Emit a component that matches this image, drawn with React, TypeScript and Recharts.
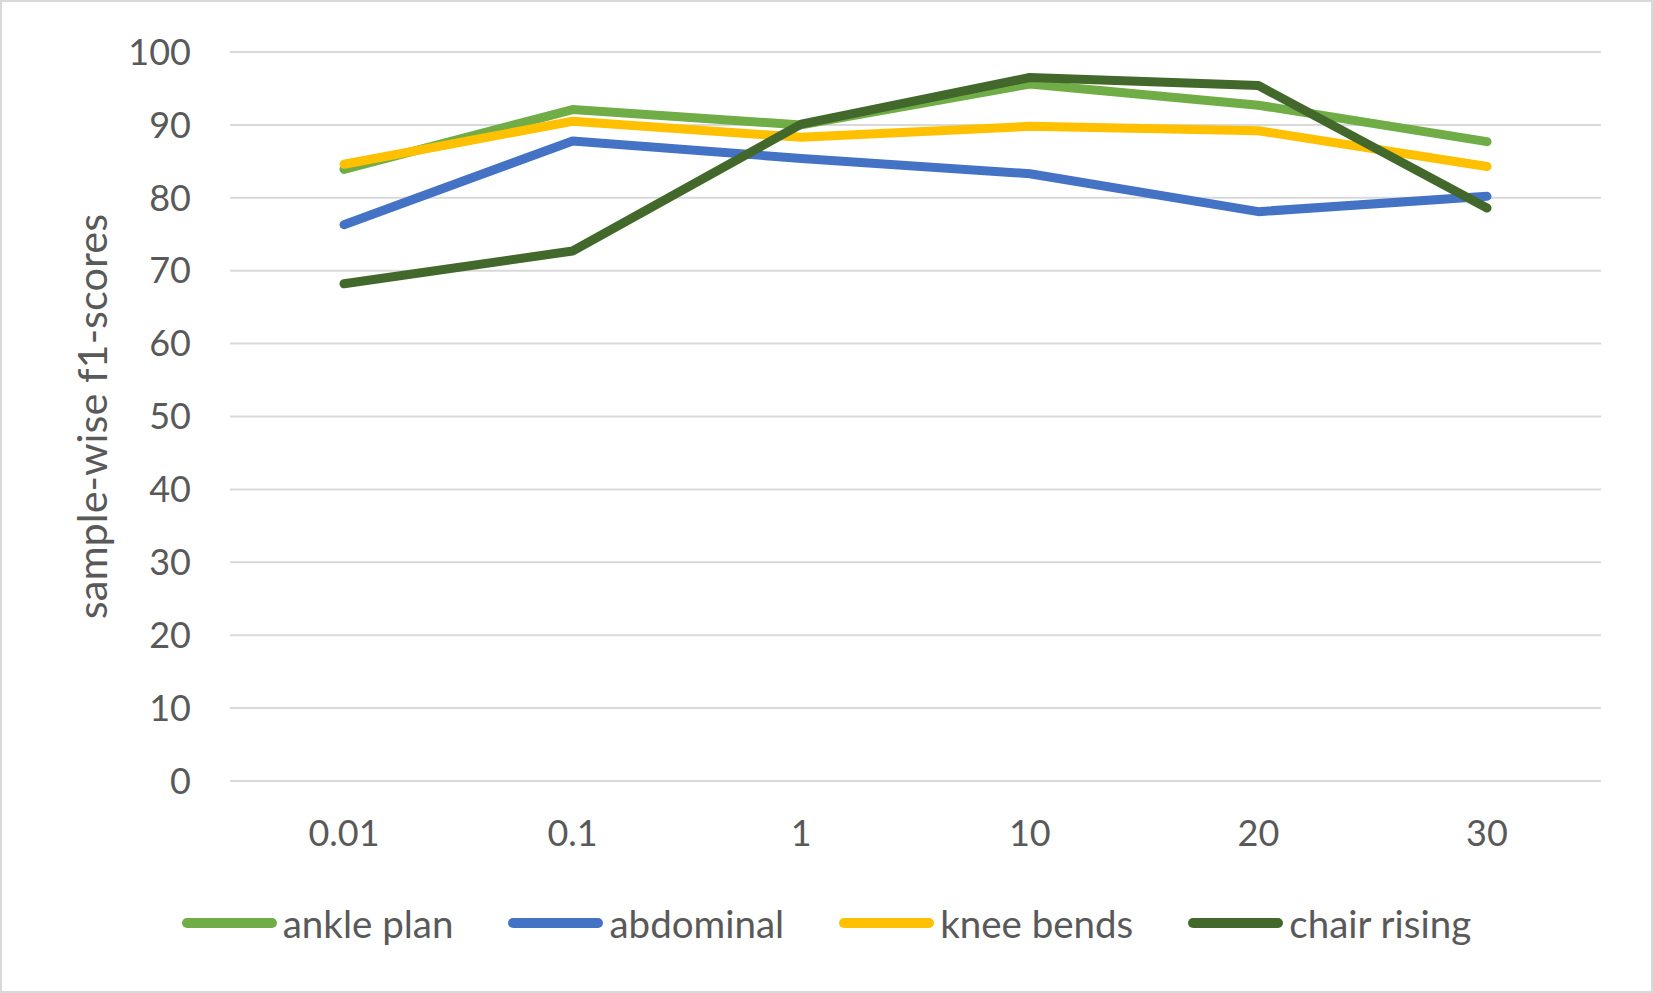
import React from 'react';
import { LineChart, Line, XAxis, YAxis, CartesianGrid, Legend } from 'recharts';

const categories = ['0.01', '0.1', '1', '10', '20', '30'];
const anklePlan = [83.9, 92.1, 90.0, 95.6, 92.7, 87.7];
const abdominal = [76.3, 87.8, 85.4, 83.3, 78.1, 80.2];
const kneeBends = [84.6, 90.5, 88.3, 89.8, 89.2, 84.3];
const chairRising = [68.2, 72.7, 90.1, 96.5, 95.4, 78.6];
const yTicks = [0, 10, 20, 30, 40, 50, 60, 70, 80, 90, 100];

const series = [
  { key: 'anklePlan', name: 'ankle plan', color: '#70AD47', values: anklePlan },
  { key: 'abdominal', name: 'abdominal', color: '#4472C4', values: abdominal },
  { key: 'kneeBends', name: 'knee bends', color: '#FFC000', values: kneeBends },
  { key: 'chairRising', name: 'chair rising', color: '#43682B', values: chairRising },
];

const data = categories.map((c, i) => {
  const row: Record<string, string | number> = { x: c };
  series.forEach((s) => {
    row[s.key] = s.values[i];
  });
  return row;
});

const textColor = '#595959';
const font = 'Lato, "Open Sans", sans-serif';

const LegendContent = () => (
  <div style={{ display: 'flex', justifyContent: 'center', alignItems: 'center', fontFamily: font, fontSize: 38.5, color: textColor }}>
    {series.map((s, i) => (
      <div key={s.key} style={{ display: 'flex', alignItems: 'center', marginLeft: i === 0 ? 0 : 55 }}>
        <svg width={95} height={12} style={{ display: 'block' }}>
          <line x1={5} y1={6} x2={90} y2={6} stroke={s.color} strokeWidth={10} strokeLinecap="round" />
        </svg>
        <span style={{ marginLeft: 6, lineHeight: '40px' }}>{s.name}</span>
      </div>
    ))}
  </div>
);

const App: React.FC = () => {
  return (
    <div style={{ position: 'absolute', left: 0, top: 0, width: 1653, height: 993, background: '#fff' }}>
      <LineChart width={1653} height={993} data={data} margin={{ top: 52, right: 52, bottom: 0, left: 0 }}>
        <CartesianGrid vertical={false} stroke="#D9D9D9" strokeWidth={2} />
        <XAxis
          dataKey="x"
          height={212}
          axisLine={false}
          tickLine={false}
          tickSize={0}
          tickMargin={39}
          padding={{ left: 114, right: 114 }}
          tick={{ fill: textColor, fontSize: 36, fontFamily: font }}
        />
        <YAxis
          width={230}
          domain={[0, 100]}
          ticks={yTicks}
          axisLine={false}
          tickLine={false}
          tickSize={0}
          tickMargin={39}
          tick={{ fill: textColor, fontSize: 36, fontFamily: font }}
          label={{
            value: 'sample-wise f1-scores',
            angle: -90,
            position: 'center',
            dx: -23,
            fill: textColor,
            fontSize: 41.5,
            fontFamily: font,
          }}
        />
        <Legend
          verticalAlign="middle"
          align="center"
          content={<LegendContent />}
          wrapperStyle={{ top: 903, left: 0, width: 1653 }}
        />
        {series.map((s) => (
          <Line
            key={s.key}
            type="linear"
            dataKey={s.key}
            name={s.name}
            stroke={s.color}
            strokeWidth={9}
            strokeLinecap="round"
            strokeLinejoin="round"
            dot={false}
            activeDot={false}
            isAnimationActive={false}
          />
        ))}
      </LineChart>
      <div
        style={{
          position: 'absolute',
          left: 0,
          top: 0,
          width: 1653,
          height: 993,
          boxSizing: 'border-box',
          border: '2px solid #D9D9D9',
          pointerEvents: 'none',
        }}
      />
    </div>
  );
};

export default App;
